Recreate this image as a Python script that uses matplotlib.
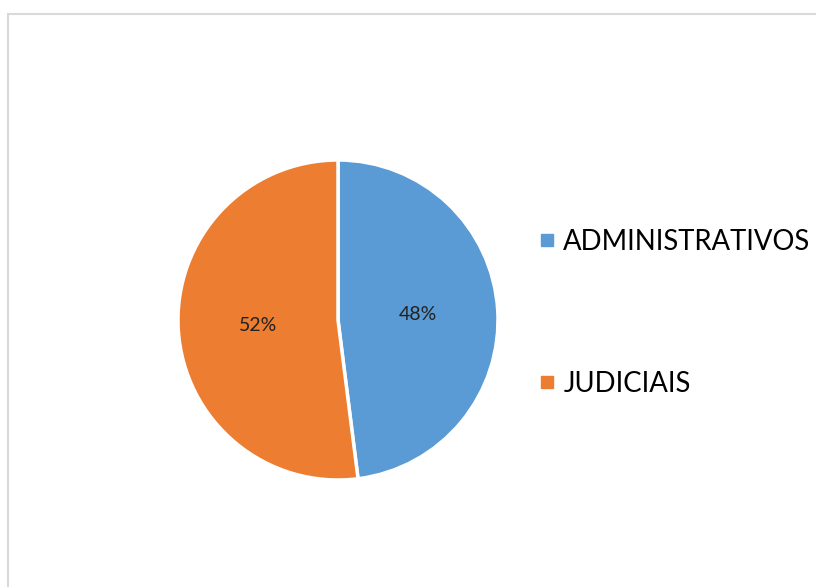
"""Pie chart of process types with a boxed figure and side legend"""

import matplotlib
matplotlib.use("Agg")
import matplotlib.pyplot as plt
from matplotlib.lines import Line2D
from matplotlib.patches import Rectangle

categories = ["ADMINISTRATIVOS", "JUDICIAIS"]
shares = [48, 52]
colors = ["#5B9BD5", "#ED7D31"]

plt.rcParams["font.family"] = ["Lato", "DejaVu Sans"]

W, H = 816, 587
fig = plt.figure(figsize=(W / 100, H / 100), dpi=100)

# light gray chart-area border, running off the right and bottom edges
fig.patches.append(Rectangle((8 / W, -0.1), 1.0, 1 - 14 / H + 0.1,
                             transform=fig.transFigure, fill=False,
                             edgecolor="#d9d9d9", linewidth=1.5))

cx, cy, r = 338, 320, 160
ax = fig.add_axes([(cx - r) / W, (H - cy - r) / H, 2 * r / W, 2 * r / H])
wedges, texts, autotexts = ax.pie(
    shares, colors=colors, startangle=90, counterclock=False,
    autopct="%d%%", pctdistance=0.5,
    wedgeprops=dict(edgecolor="white", linewidth=2.5),
    textprops=dict(fontsize=14, color="#222222"))
ax.set_xlim(-1, 1)
ax.set_ylim(-1, 1)
ax.set_aspect("equal")
ax.axis("off")

handles = [Line2D([], [], marker="s", linestyle="", markersize=9,
                  color=c) for c in colors]
fig.legend(handles, categories, loc="upper left",
           bbox_to_anchor=(528 / W, 1 - 218 / H), frameon=False,
           fontsize=19.8, handlelength=0.6, handletextpad=0.28,
           labelspacing=4.2, borderaxespad=0)

fig.savefig("out.png", dpi=100)
